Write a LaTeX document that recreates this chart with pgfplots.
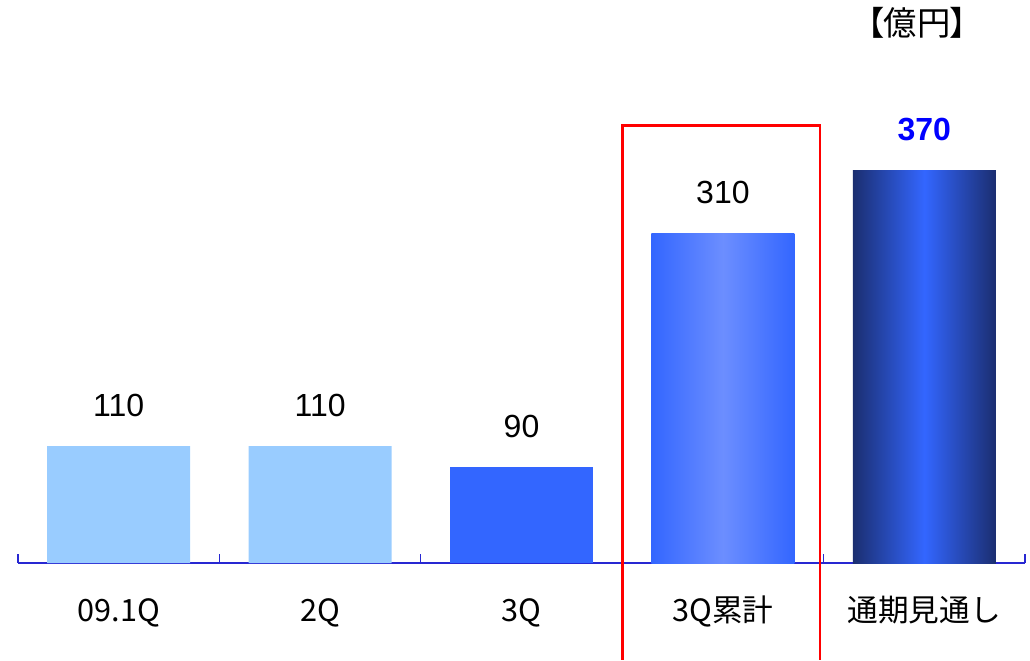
\documentclass[border=0pt]{standalone}
\usepackage{pgfplots}
\pgfplotsset{compat=1.18}
\usepackage{fontspec}
\setmainfont{Liberation Sans}
\newfontfamily\jp{Noto Sans CJK JP}
\newfontfamily\jpp[RawFeature=+palt]{Noto Sans CJK JP}
\definecolor{lightbar}{RGB}{153,204,255}
\definecolor{midbar}{RGB}{51,102,255}
\definecolor{gradmid}{RGB}{108,142,255}
\definecolor{navybar}{RGB}{27,46,112}
\definecolor{axisblue}{RGB}{40,40,210}
\definecolor{labelblue}{RGB}{0,0,255}
\begin{document}
\begin{tikzpicture}
\begin{axis}[
  scale only axis, width=755.25pt, height=318.6pt,
  xmin=-0.5, xmax=4.5, ymin=0, ymax=400,
  axis x line*=bottom,
  hide y axis,
  x axis line style={draw=axisblue, line width=1pt},
  xtick={-0.5,0.5,1.5,2.5,3.5,4.5},
  xticklabels={},
  xtick align=outside,
  major tick length=-6.75pt,
  xtick style={draw=axisblue, line width=1pt},
  extra x ticks={0,1,2,3,4},
  extra x tick labels={09.1Q,2Q,3Q,3Q累計,通期見通し},
  extra x tick style={major tick length=0pt, tick style={draw=none},
    xticklabel style={font=\jp\fontsize{23}{23}\selectfont, anchor=base, yshift=-44pt, text=black}},
  ybar, bar width=0.71,
  /pgf/number format/assume math mode=true,
  nodes near coords,
  every node near coord/.append style={font=\fontsize{24}{24}\selectfont, anchor=base, yshift=22.5pt, text=black},
  clip=false,
]
\addplot[ybar, bar shift=0pt, fill=lightbar, draw=none] coordinates {(0,110) (1,110)};
\addplot[ybar, bar shift=0pt, fill=midbar, draw=none] coordinates {(2,90)};
\addplot[ybar, bar shift=0pt, draw=none, left color=midbar, right color=midbar, middle color=gradmid] coordinates {(3,310)};
\addplot[ybar, bar shift=0pt, draw=none, left color=navybar, right color=navybar, middle color=midbar,
  every node near coord/.append style={font=\bfseries\fontsize{24}{24}\selectfont, text=labelblue}] coordinates {(4,370)};
\draw[red, line width=2pt] (axis cs:2.5,-91) -- (axis cs:2.5,412) -- (axis cs:3.482,412) -- (axis cs:3.482,-91);
\end{axis}
\path (-13.5pt,-72.75pt) rectangle (759pt,422.25pt);
\node[font=\jpp\fontsize{25}{25}\selectfont, text=black] at (674.25pt,405pt) {【億円】};
\end{tikzpicture}
\end{document}
